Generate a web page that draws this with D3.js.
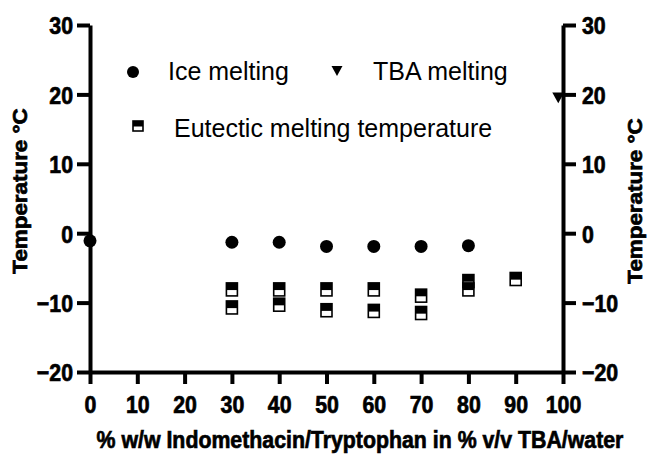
<!DOCTYPE html>
<html>
<head>
<meta charset="utf-8">
<script src="https://cdn.jsdelivr.net/npm/d3@7"></script>
<style>
  html, body { margin: 0; padding: 0; background: #fff; }
  svg { display: block; }
</style>
</head>
<body>
<svg id="chart" width="647" height="454"></svg>
<script>
// Melting temperatures vs. % w/w solute in % v/v TBA/water
const iceX = [0, 30, 40, 50, 60, 70, 80];
const iceY = [-1.1, -1.3, -1.3, -1.9, -1.9, -1.9, -1.8];

const tbaX = [99];
const tbaY = [19.5];

const eutX = [30, 30, 40, 40, 50, 50, 60, 60, 70, 70, 80, 80, 90];
const eutY = [-8.1, -10.7, -8.1, -10.3, -8.1, -11.1, -8.1, -11.2, -9.0, -11.5, -6.9, -8.1, -6.6];

const xTicks = [0, 10, 20, 30, 40, 50, 60, 70, 80, 90, 100];
const yTicks = [-20, -10, 0, 10, 20, 30];

const legendLabels = ["Ice melting", "TBA melting", "Eutectic melting temperature"];
const xTitle = "% w/w Indomethacin/Tryptophan in % v/v TBA/water";
const yTitle = "Temperature °C";

const svg = d3.select("#chart");
const FONT = "'Liberation Sans', Arial, Helvetica, sans-serif";

const x = d3.scaleLinear().domain([0, 100]).range([90, 563]);
const y = d3.scaleLinear().domain([-20, 30]).range([372, 25]);

// heavy bold style used by tick labels and axis titles
function heavy(sel, size) {
  return sel
    .attr("fill", "#000")
    .attr("stroke", "#000").attr("stroke-width", 0.7)
    .style("font-family", FONT)
    .style("font-weight", "bold")
    .style("font-size", size + "px");
}

// ---------- markers ----------
function drawCircle(g, cx, cy, r) {
  g.append("circle").attr("cx", cx).attr("cy", cy).attr("r", r).attr("fill", "#000");
}
function drawTriangle(g, cx, cy, w) {
  const h = w * 0.9;
  g.append("path")
    .attr("d", `M${cx - w / 2},${cy - h / 2}L${cx + w / 2},${cy - h / 2}L${cx},${cy + h / 2}Z`)
    .attr("fill", "#000");
}
function drawHalfSquare(g, cx, cy, w, h) {
  g.append("rect")
    .attr("x", cx - w / 2).attr("y", cy - h / 2)
    .attr("width", w).attr("height", h)
    .attr("fill", "#fff").attr("stroke", "#000").attr("stroke-width", 1.6);
  g.append("rect")
    .attr("x", cx - w / 2).attr("y", cy - h / 2)
    .attr("width", w).attr("height", h * 0.55)
    .attr("fill", "#000");
}

// ---------- data ----------
const marks = svg.append("g");
eutX.forEach((v, i) => drawHalfSquare(marks, x(v), y(eutY[i]), 11, 13));
iceX.forEach((v, i) => drawCircle(marks, x(v), y(iceY[i]), 6.5));
tbaX.forEach((v, i) => drawTriangle(marks, x(v), y(tbaY[i]), 12));

// ---------- axes ----------
function styleAxis(g) {
  g.select(".domain").attr("stroke", "#000").attr("stroke-width", 4);
  g.selectAll(".tick line").attr("stroke", "#000").attr("stroke-width", 4);
  heavy(g.selectAll(".tick text"), 24.5);
}

const left = svg.append("g")
  .attr("transform", `translate(${x(0)},0)`)
  .call(d3.axisLeft(y).tickValues(yTicks).tickSize(13).tickSizeOuter(0).tickPadding(0));
styleAxis(left);
left.selectAll(".tick text")
  .attr("x", null).attr("dy", null)
  .attr("text-anchor", "end")
  .attr("transform", "translate(-17,8.8) scale(0.87,1)");

const right = svg.append("g")
  .attr("transform", `translate(${x(100)},0)`)
  .call(d3.axisRight(y).tickValues(yTicks).tickSize(13).tickSizeOuter(0).tickPadding(0));
styleAxis(right);
right.selectAll(".tick text")
  .attr("x", null).attr("dy", null)
  .attr("text-anchor", "start")
  .attr("transform", "translate(19,8.8) scale(0.87,1)");

const bottom = svg.append("g")
  .attr("transform", `translate(0,${y(-20)})`)
  .call(d3.axisBottom(x).tickValues(xTicks).tickSize(12).tickSizeOuter(0).tickPadding(0));
styleAxis(bottom);
bottom.selectAll(".tick text")
  .attr("y", null).attr("dy", null)
  .attr("text-anchor", "middle")
  .attr("transform", "translate(0,41) scale(0.87,1)");

// ---------- titles ----------
heavy(svg.append("text"), 24.5)
  .attr("transform", "translate(360,448) scale(0.87,1)")
  .attr("text-anchor", "middle")
  .text(xTitle);

heavy(svg.append("text"), 20)
  .attr("transform", "translate(27,191) rotate(-90) scale(1.12,1)")
  .attr("text-anchor", "middle")
  .text(yTitle);

heavy(svg.append("text"), 20)
  .attr("transform", "translate(642,201) rotate(-90) scale(1.12,1)")
  .attr("text-anchor", "middle")
  .text(yTitle);

// ---------- legend ----------
const legend = svg.append("g");
const legendItems = [
  { label: legendLabels[0], mx: 133, my: 72, tx: 168, ty: 80, draw: (g, cx, cy) => drawCircle(g, cx, cy, 6) },
  { label: legendLabels[1], mx: 337, my: 71, tx: 373, ty: 80, draw: (g, cx, cy) => drawTriangle(g, cx, cy, 11) },
  { label: legendLabels[2], mx: 138, my: 126, tx: 174, ty: 137, draw: (g, cx, cy) => drawHalfSquare(g, cx, cy, 10, 10) }
];
legendItems.forEach(d => {
  d.draw(legend, d.mx, d.my);
  legend.append("text")
    .attr("x", d.tx).attr("y", d.ty)
    .style("font-family", FONT).style("font-size", "25px").attr("fill", "#000")
    .text(d.label);
});
</script>
</body>
</html>
